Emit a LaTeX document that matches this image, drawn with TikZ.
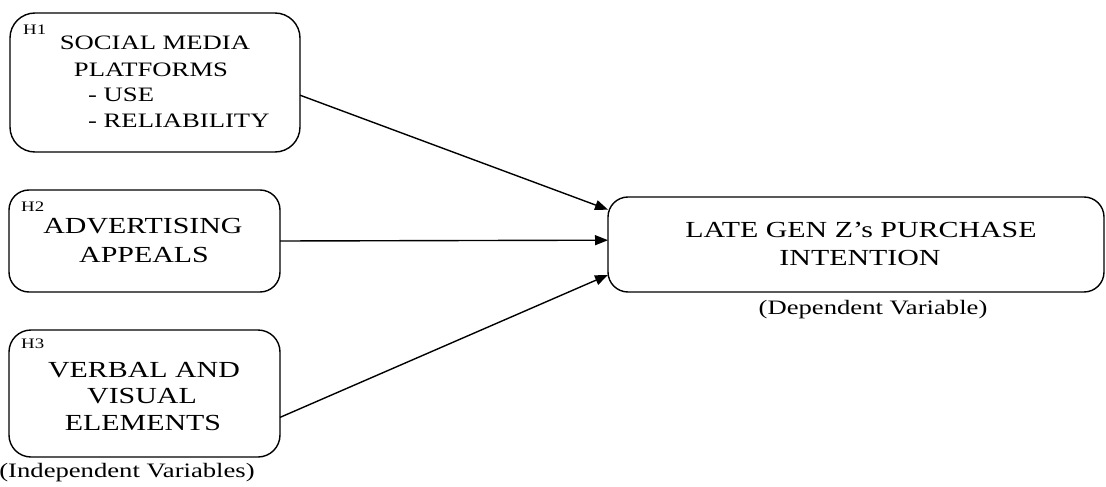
\documentclass[tikz,border=0pt]{standalone}
\usepackage{fontspec}
\setmainfont[FakeStretch=1.3]{Liberation Serif}
\usetikzlibrary{arrows.meta}

\begin{document}
\begin{tikzpicture}[x=1pt,y=-1pt,
  varbox/.style={draw=black, line width=1.4pt, rectangle, inner sep=0pt, outer sep=0pt},
  bigtxt/.style={inner sep=0pt, anchor=base, font=\fontsize{23}{27}\selectfont},
  midtxt/.style={inner sep=0pt, anchor=base, font=\fontsize{20.5}{26}\selectfont},
  captxt/.style={inner sep=0pt, anchor=base, font=\fontsize{20.5}{26}\selectfont},
  hyptxt/.style={inner sep=0pt, anchor=base west, font=\fontsize{14.5}{16}\selectfont},
  link/.style={line width=1.4pt, -{Triangle[length=13pt,width=10pt]}}
]
\useasboundingbox (0,0) rectangle (1106,487);

% independent variable boxes
\node[varbox, rounded corners=25pt, minimum width=290pt, minimum height=139pt] (b1) at (155,82.5) {};
\node[varbox, rounded corners=20pt, minimum width=271pt, minimum height=102pt] (b2) at (144.5,241) {};
\node[varbox, rounded corners=22pt, minimum width=271pt, minimum height=127pt] (b3) at (144.5,393.5) {};

% dependent variable box
\node[varbox, rounded corners=20pt, minimum width=496pt, minimum height=95pt] (dv) at (856,244.5) {};

% hypothesis tags
\node[hyptxt] (h1) at (23,35) {H1};
\node[hyptxt] (h2) at (21,211) {H2};
\node[hyptxt] (h3) at (21,348) {H3};

% box texts
\node[midtxt] (b1a) at (155,50) {SOCIAL MEDIA};
\node[midtxt] (b1b) at (151,77) {PLATFORMS};
\node[midtxt, anchor=base west] (b1c) at (88,102) {- USE};
\node[midtxt, anchor=base west] (b1d) at (88,128) {- RELIABILITY};

\node[bigtxt] (b2a) at (143,233) {ADVERTISING};
\node[bigtxt] (b2b) at (144,262) {APPEALS};

\node[bigtxt] (b3a) at (144,377) {VERBAL AND};
\node[bigtxt] (b3b) at (142,403) {VISUAL};
\node[bigtxt] (b3c) at (143,430) {ELEMENTS};

\node[bigtxt] (dva) at (861,237) {LATE GEN Z’s PURCHASE};
\node[bigtxt] (dvb) at (860,265) {INTENTION};

% captions
\node[captxt] (ivlab) at (127,477) {(Independent Variables)};
\node[captxt] (dvlab) at (873,314) {(Dependent Variable)};

% paths
\draw[link] (b1.-5.7) -- (dv.172.76);
\draw[link] (b2.east) -- (dv.179.19);
\draw[link] (b3.-10.25) -- (dv.187.47);
\end{tikzpicture}
\end{document}
